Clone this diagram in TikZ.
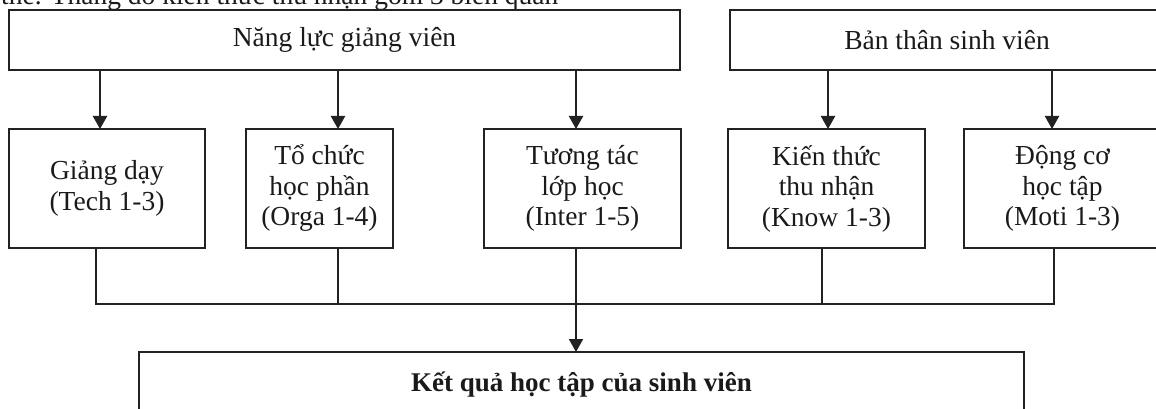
\documentclass[tikz,border=0pt]{standalone}
\usepackage{fontspec}
\setmainfont{Liberation Serif}
\usetikzlibrary{arrows.meta}
\definecolor{linecol}{HTML}{222222}
\definecolor{txtcol}{HTML}{1A1A1A}
\begin{document}
\begin{tikzpicture}[x=1pt,y=-1pt,
  box/.style={draw=linecol, line width=1.7pt, outer sep=0pt, inner sep=0pt,
    align=center, text=txtcol, font=\fontsize{27.5}{30.5}\selectfont},
  arr/.style={draw=linecol, line width=2.3pt, -{Triangle[width=14pt,length=13pt]}},
  conn/.style={draw=linecol, line width=1.7pt, line join=miter},
  conarr/.style={draw=linecol, line width=1.9pt, -{Triangle[width=14pt,length=13pt]}}]
\useasboundingbox (0,0) rectangle (1156,409);

% clipped text line at the top
\node[anchor=base west, inner sep=0pt, text=txtcol, font=\fontsize{27.5}{30.5}\selectfont]
  (topline) at (1,5) {thể. Thang đo kiến thức thu nhận gồm 3 biến quan};

% top boxes
\node[box, minimum width=671, minimum height=60] (nl) at (344.5,40) {Năng lực giảng viên};
\node[box, minimum width=434, minimum height=60] (bt) at (947,40) {Bản thân sinh viên};

% middle boxes
\node[box, minimum width=196, minimum height=119] (m1) at (107,188.5) {Giảng dạy\\(Tech 1-3)};
\node[box, minimum width=147, minimum height=119] (m2) at (319.5,188.5) {Tổ chức\\học phần\\(Orga 1-4)};
\node[box, minimum width=197, minimum height=119] (m3) at (582.5,188.5) {Tương tác\\lớp học\\(Inter 1-5)};
\node[box, minimum width=197, minimum height=119] (m4) at (826.5,188.5) {Kiến thức\\thu nhận\\(Know 1-3)};
\node[box, minimum width=197, minimum height=119] (m5) at (1062.5,188.5) {Động cơ\\học tập\\(Moti 1-3)};

% bottom box
\node[box, minimum width=885, minimum height=66, anchor=north, font=\fontsize{27}{30}\selectfont\bfseries]
  (kq) at (581.5,352) {Kết quả học tập của sinh viên};

% x positions of the connectors
\coordinate (a1) at (100,0);
\coordinate (a2) at (338,0);
\coordinate (a3) at (576,0);
\coordinate (a4) at (828,0);
\coordinate (a5) at (1052,0);
\coordinate (b1) at (95.7,0);
\coordinate (b2) at (337.7,0);
\coordinate (b3) at (576,0);
\coordinate (b4) at (822,0);
\coordinate (b5) at (1054,0);
\coordinate (hb) at (0,304);

% arrows from the top boxes
\draw[arr] (nl.south -| a1) -- (m1.north -| a1);
\draw[arr] (nl.south -| a2) -- (m2.north -| a2);
\draw[arr] (nl.south -| a3) -- (m3.north -| a3);
\draw[arr] (bt.south -| a4) -- (m4.north -| a4);
\draw[arr] (bt.south -| a5) -- (m5.north -| a5);

% collecting lines
\draw[conn] (m1.south -| b1) -- (b1 |- hb) -- (b5 |- hb) -- (m5.south -| b5);
\draw[conn] (m2.south -| b2) -- (b2 |- hb);
\draw[conn] (m4.south -| b4) -- (b4 |- hb);
\draw[conarr] (m3.south -| b3) -- (kq.north -| b3);
\end{tikzpicture}
\end{document}
